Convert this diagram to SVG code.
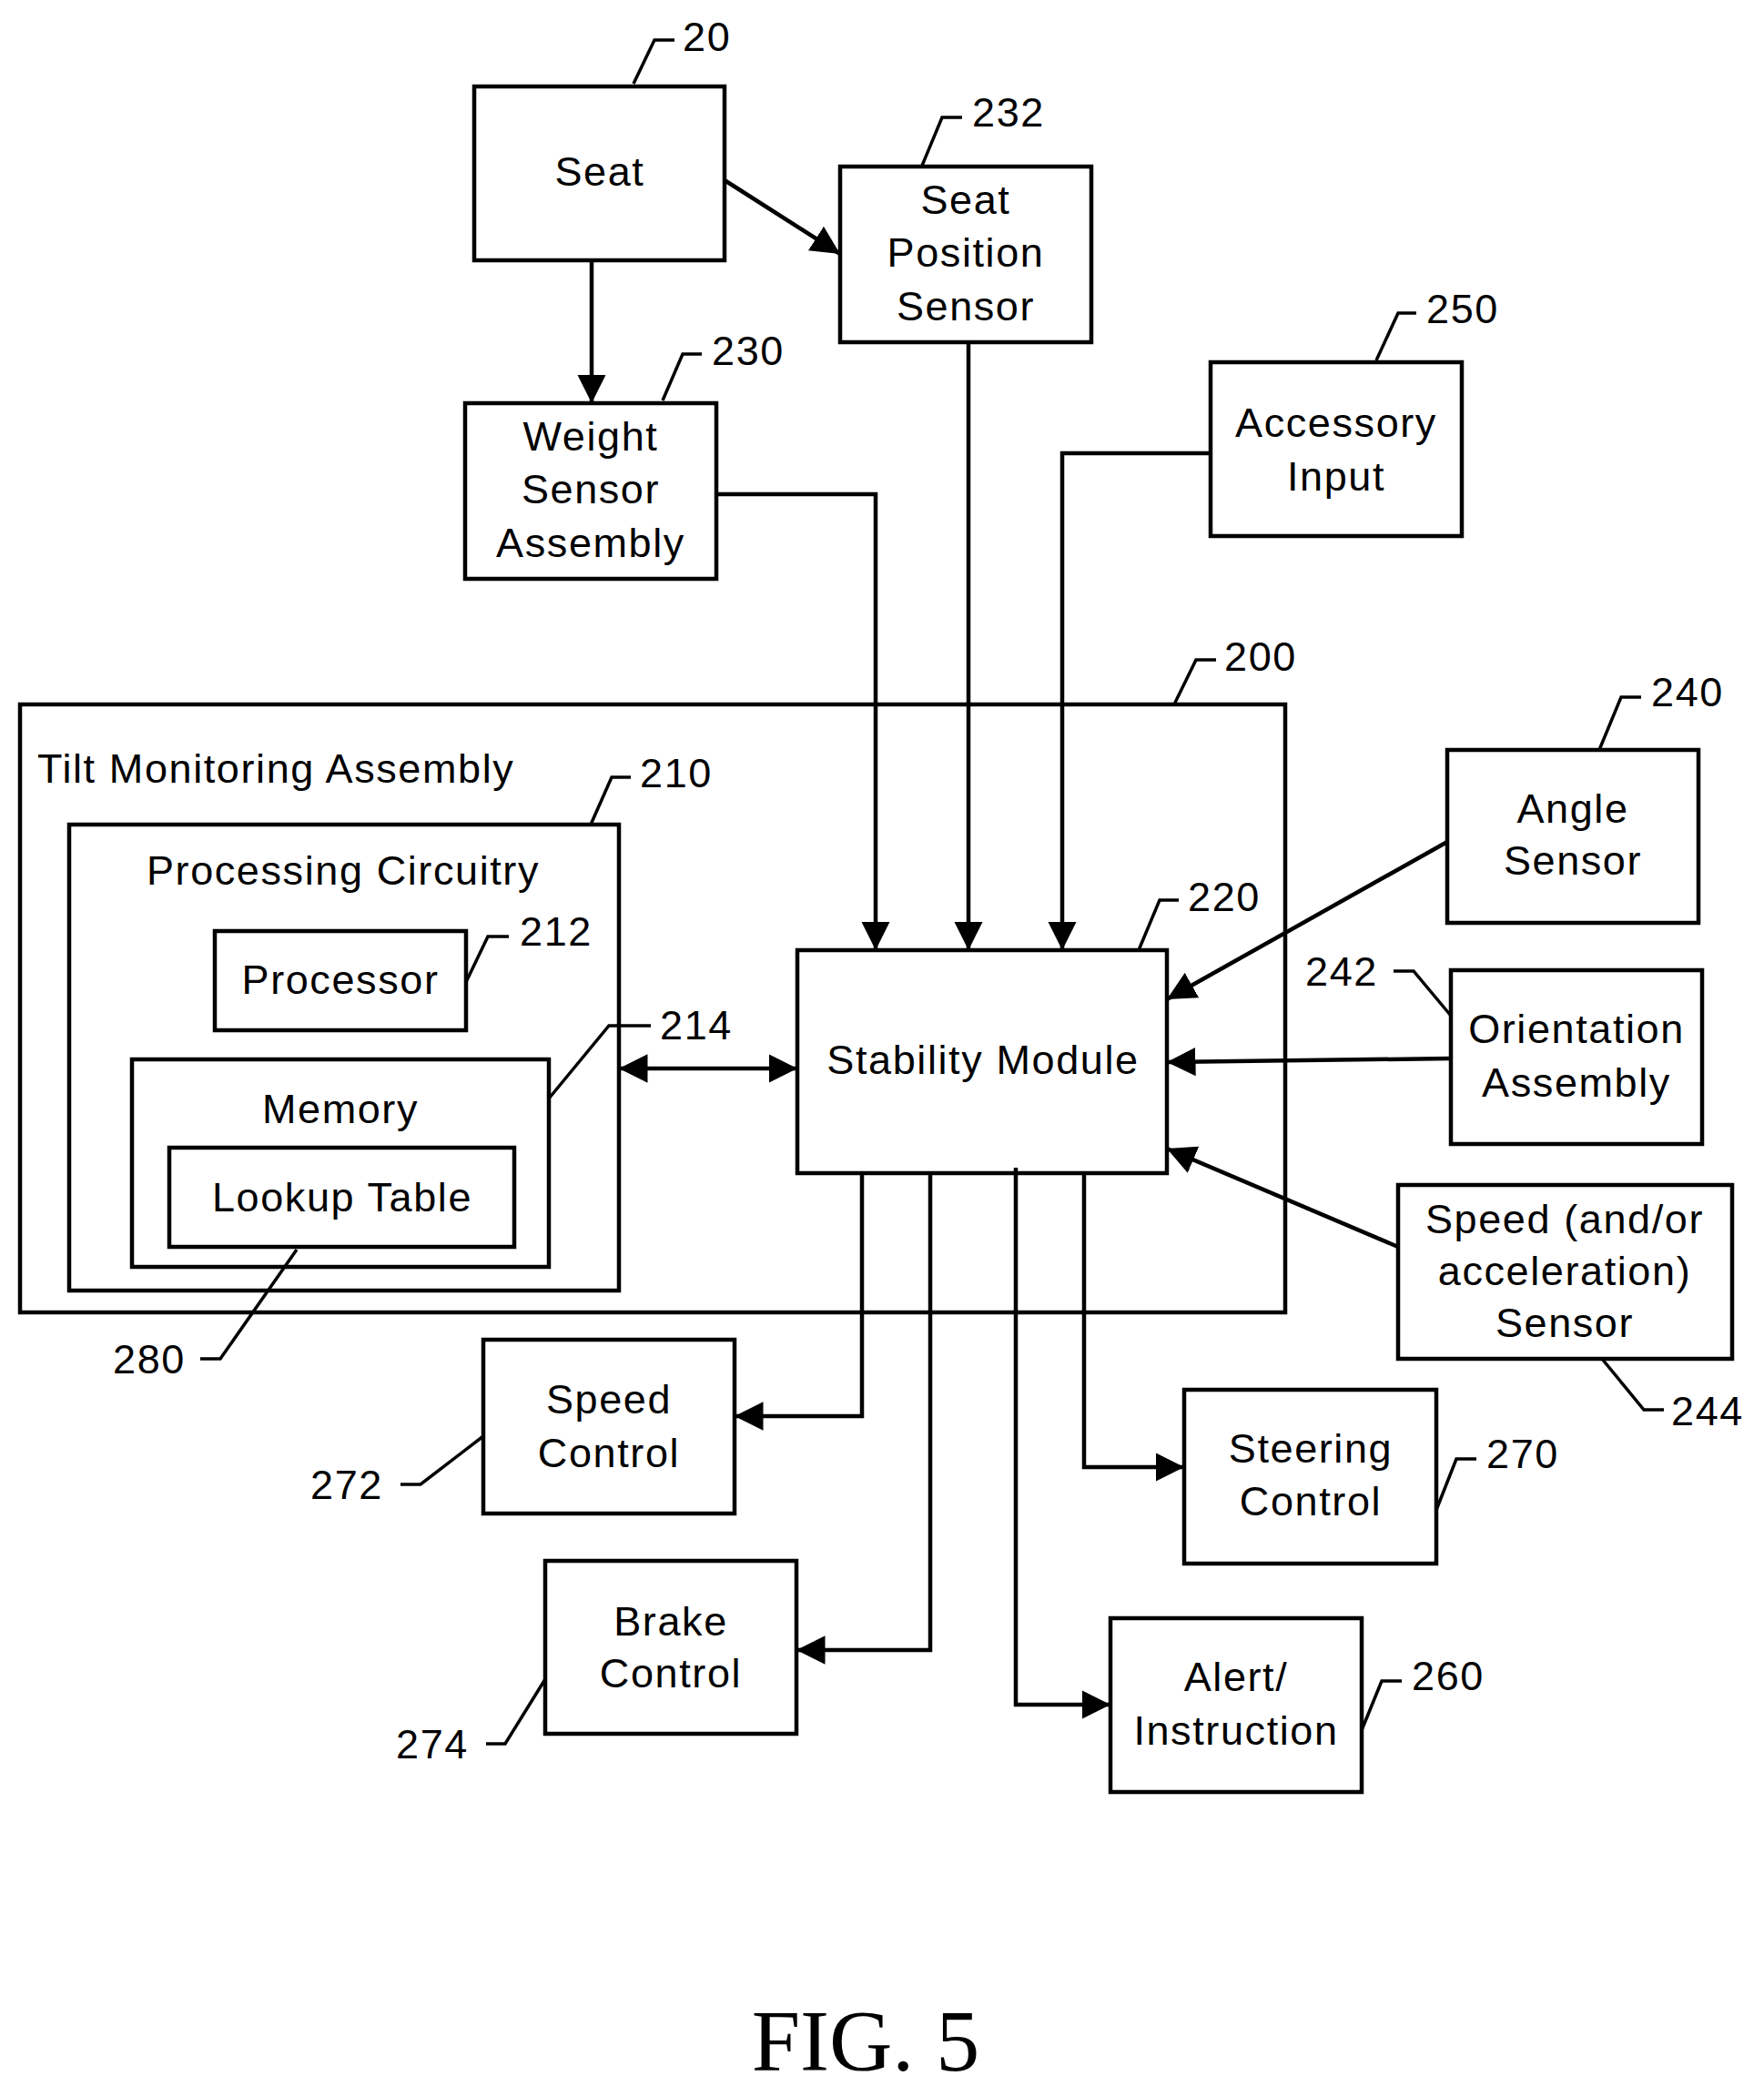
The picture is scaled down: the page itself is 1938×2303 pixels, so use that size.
<svg xmlns="http://www.w3.org/2000/svg" width="1938" height="2303" viewBox="0 0 1938 2303">
<style>
.b{fill:none;stroke:#000;stroke-width:4.5}
.c{fill:none;stroke:#000;stroke-width:4.5}
.l{fill:none;stroke:#000;stroke-width:3.5}
text{font-family:"Liberation Sans",Arial,sans-serif;font-size:45px;fill:#000;letter-spacing:1.6px}
.m{text-anchor:middle;dominant-baseline:central}
.n{dominant-baseline:central}
</style>
<defs>
<marker id="a" viewBox="0 0 10 10" refX="10" refY="5" markerWidth="7" markerHeight="7" markerUnits="strokeWidth" orient="auto-start-reverse"><path d="M0,0L10,5L0,10z" fill="#000"/></marker>
</defs>
<rect width="1938" height="2303" fill="#fff"/>
<g id="tilt"><rect class="b" x="22" y="774" width="1390" height="668"/><text x="41" y="844" class="n">Tilt Monitoring Assembly</text></g>
<g id="proc-circ"><rect class="b" x="76" y="906" width="604" height="512"/><text x="377" y="956" class="m">Processing Circuitry</text></g>
<g id="processor"><rect class="b" x="236" y="1023" width="276" height="109"/><text x="374" y="1076" class="m">Processor</text></g>
<g id="memory"><rect class="b" x="145" y="1164" width="458" height="228"/><text x="374" y="1218" class="m">Memory</text></g>
<g id="lookup"><rect class="b" x="186" y="1261" width="379" height="109"/><text x="376" y="1315" class="m">Lookup Table</text></g>
<g id="seat"><rect class="b" x="521" y="95" width="275" height="191"/><text x="659" y="188" class="m">Seat</text></g>
<g id="seatpos"><rect class="b" x="923" y="183" width="276" height="193"/><text class="m" x="1061" y="219">Seat</text><text class="m" x="1061" y="277">Position</text><text class="m" x="1061" y="336">Sensor</text></g>
<g id="weight"><rect class="b" x="511" y="443" width="276" height="193"/><text class="m" x="649" y="479">Weight</text><text class="m" x="649" y="537">Sensor</text><text class="m" x="649" y="596">Assembly</text></g>
<g id="accessory"><rect class="b" x="1330" y="398" width="276" height="191"/><text class="m" x="1468" y="464">Accessory</text><text class="m" x="1468" y="523">Input</text></g>
<g id="stability"><rect class="b" x="876" y="1044" width="406" height="245"/><text class="m" x="1080" y="1164">Stability Module</text></g>
<g id="angle"><rect class="b" x="1590" y="824" width="276" height="190"/><text class="m" x="1728" y="888">Angle</text><text class="m" x="1728" y="945">Sensor</text></g>
<g id="orient"><rect class="b" x="1594" y="1066" width="276" height="191"/><text class="m" x="1732" y="1130">Orientation</text><text class="m" x="1732" y="1189">Assembly</text></g>
<g id="speedsensor"><rect class="b" x="1536" y="1302" width="367" height="191"/><text class="m" x="1719" y="1339">Speed (and/or</text><text class="m" x="1719" y="1396">acceleration)</text><text class="m" x="1719" y="1453">Sensor</text></g>
<g id="speedctl"><rect class="b" x="531" y="1472" width="276" height="191"/><text class="m" x="669" y="1537">Speed</text><text class="m" x="669" y="1596">Control</text></g>
<g id="steer"><rect class="b" x="1301" y="1527" width="277" height="191"/><text class="m" x="1440" y="1591">Steering</text><text class="m" x="1440" y="1649">Control</text></g>
<g id="brake"><rect class="b" x="599" y="1715" width="276" height="190"/><text class="m" x="737" y="1781">Brake</text><text class="m" x="737" y="1838">Control</text></g>
<g id="alert"><rect class="b" x="1220" y="1778" width="276" height="191"/><text class="m" x="1358" y="1842">Alert/</text><text class="m" x="1358" y="1901">Instruction</text></g>
<g id="connectors">
<path class="c" marker-end="url(#a)" d="M796,198L923,279"/>
<path class="c" marker-end="url(#a)" d="M650,286V443"/>
<path class="c" marker-end="url(#a)" d="M787,543H962V1044"/>
<path class="c" marker-end="url(#a)" d="M1064,376V1044"/>
<path class="c" marker-end="url(#a)" d="M1330,498H1167V1044"/>
<path class="c" marker-end="url(#a)" d="M1590,925L1282,1098"/>
<path class="c" marker-end="url(#a)" d="M1594,1163L1282,1167"/>
<path class="c" marker-end="url(#a)" d="M1536,1370L1282,1262"/>
<path class="c" marker-start="url(#a)" marker-end="url(#a)" d="M680,1174H876"/>
<path class="c" marker-end="url(#a)" d="M947,1289V1556H807"/>
<path class="c" marker-end="url(#a)" d="M1022,1289V1813H875"/>
<path class="c" marker-end="url(#a)" d="M1116,1283V1873H1220"/>
<path class="c" marker-end="url(#a)" d="M1191,1289V1612H1301"/>
</g>
<g id="labels">
<path class="l" d="M696,92L719,44H741"/><text x="750" y="40" class="n">20</text>
<path class="l" d="M1013,182L1035,129H1057"/><text x="1068" y="123" class="n">232</text>
<path class="l" d="M728,440L750,389H771"/><text x="782" y="385" class="n">230</text>
<path class="l" d="M1512,396L1536,344H1556"/><text x="1567" y="339" class="n">250</text>
<path class="l" d="M1290,774L1314,725H1336"/><text x="1345" y="721" class="n">200</text>
<path class="l" d="M649,906L672,854H693"/><text x="703" y="849" class="n">210</text>
<path class="l" d="M512,1079L536,1029H559"/><text x="571" y="1023" class="n">212</text>
<path class="l" d="M603,1207L669,1127H715"/><text x="725" y="1126" class="n">214</text>
<path class="l" d="M1251,1044L1274,989H1295"/><text x="1305" y="985" class="n">220</text>
<path class="l" d="M1757,824L1781,766H1803"/><text x="1814" y="760" class="n">240</text>
<path class="l" d="M1531,1067H1553L1594,1116"/><text x="1434" y="1067" class="n">242</text>
<path class="l" d="M1760,1493L1806,1549H1828"/><text x="1836" y="1550" class="n">244</text>
<path class="l" d="M1578,1659L1600,1603H1622"/><text x="1633" y="1597" class="n">270</text>
<path class="l" d="M1496,1901L1518,1847H1540"/><text x="1551" y="1841" class="n">260</text>
<path class="l" d="M440,1631H462L531,1578"/><text x="341" y="1631" class="n">272</text>
<path class="l" d="M534,1916H555L599,1845"/><text x="435" y="1916" class="n">274</text>
<path class="l" d="M220,1493H242L326,1373"/><text x="124" y="1493" class="n">280</text>
</g>
<text x="951" y="2275" text-anchor="middle" style="font-family:'Liberation Serif',serif;font-size:96px;letter-spacing:0">FIG. 5</text>
</svg>
